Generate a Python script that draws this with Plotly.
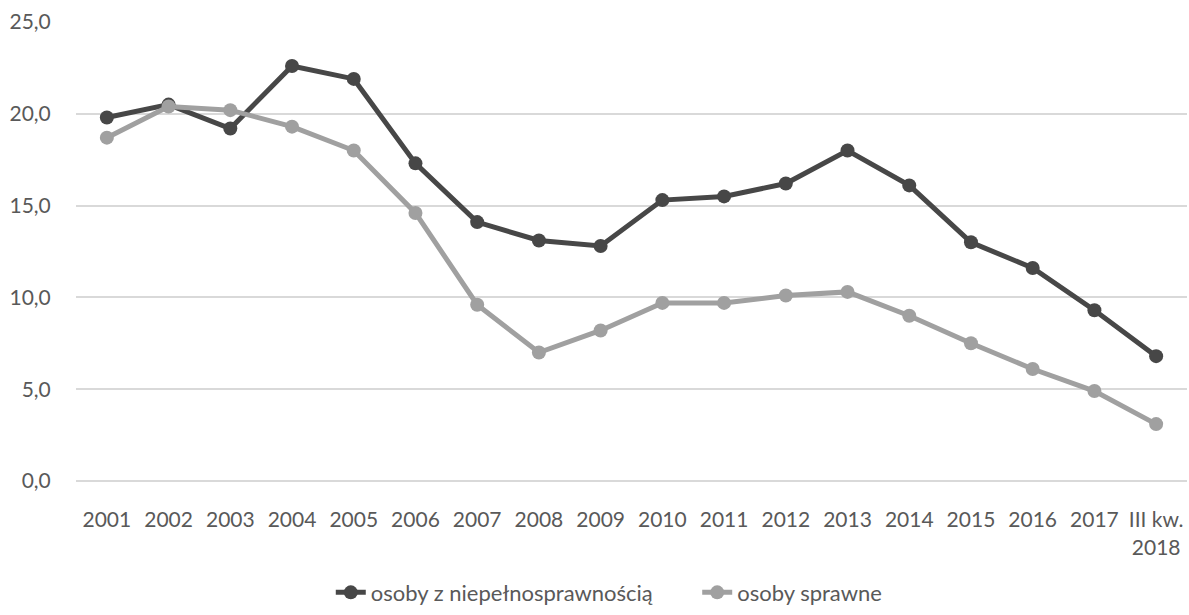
import plotly.graph_objects as go

# Category labels (last period is Q3 2018)
categories = ["2001", "2002", "2003", "2004", "2005", "2006", "2007", "2008", "2009",
              "2010", "2011", "2012", "2013", "2014", "2015", "2016", "2017", "III kw. 2018"]
tick_labels = ["2001", "2002", "2003", "2004", "2005", "2006", "2007", "2008", "2009",
               "2010", "2011", "2012", "2013", "2014", "2015", "2016", "2017",
               "III kw.<br>2018"]

disabled = [19.8, 20.5, 19.2, 22.6, 21.9, 17.3, 14.1, 13.1, 12.8,
            15.3, 15.5, 16.2, 18.0, 16.1, 13.0, 11.6, 9.3, 6.8]
able = [18.7, 20.4, 20.2, 19.3, 18.0, 14.6, 9.6, 7.0, 8.2,
        9.7, 9.7, 10.1, 10.3, 9.0, 7.5, 6.1, 4.9, 3.1]

y_ticks = [0, 5, 10, 15, 20, 25]

DARK = "#474747"
LIGHT = "#a0a0a0"
TEXT = "#595959"
FONT = "Lato, Open Sans, sans-serif"

fig = go.Figure()
fig.add_trace(go.Scatter(
    x=categories, y=disabled,
    name="osoby z niepełnosprawnością" + "\u00a0" * 7,
    mode="lines+markers",
    line=dict(color=DARK, width=5),
    marker=dict(color=DARK, size=14),
))
fig.add_trace(go.Scatter(
    x=categories, y=able, name="osoby sprawne",
    mode="lines+markers",
    line=dict(color=LIGHT, width=5),
    marker=dict(color=LIGHT, size=14),
))

fig.update_layout(
    width=1189, height=615,
    margin=dict(l=76, r=2, t=22, b=128),
    paper_bgcolor="white", plot_bgcolor="white",
    separators=", ",
    font=dict(family=FONT, size=21, color=TEXT),
    showlegend=True,
    legend=dict(
        orientation="h", x=0.48, xanchor="center", y=-0.243, yanchor="middle",
        font=dict(family=FONT, size=22, color=TEXT), tracegroupgap=0,
    ),
    xaxis=dict(
        type="category", range=[-0.5, len(categories) - 0.5],
        tickmode="array", tickvals=categories, ticktext=tick_labels,
        showgrid=False, showline=False, zeroline=False,
        ticks="outside", ticklen=20, tickcolor="rgba(0,0,0,0)",
        automargin=False, tickangle=0, tickfont=dict(size=21),
    ),
    yaxis=dict(
        range=[0, 25], tickvals=y_ticks, tickformat=".1f",
        showgrid=True, gridcolor="#d9d9d9", gridwidth=1.5,
        zeroline=True, zerolinecolor="#d9d9d9", zerolinewidth=1.5,
        showline=False, ticks="outside", ticklen=20, tickcolor="rgba(0,0,0,0)",
        automargin=False, tickfont=dict(size=21),
    ),
)

fig.write_html("out.html")
